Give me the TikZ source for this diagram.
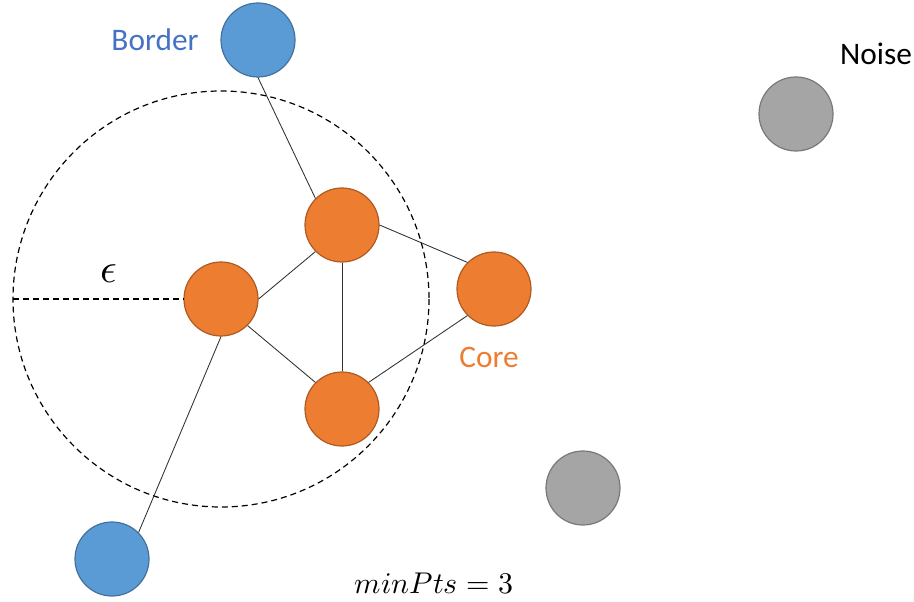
\documentclass[tikz,border=0pt]{standalone}
\usepackage{fontspec}
\usepackage{unicode-math}
\setmainfont{Carlito}
\setmathfont{Latin Modern Math}
\begin{document}
\begin{tikzpicture}[x=0.75pt,y=-0.75pt,
  pt/.style={circle,minimum size=55.5pt,inner sep=0pt,line width=0.9pt},
  border/.style={pt,fill={rgb,255:red,91;green,155;blue,213},draw={rgb,255:red,65;green,113;blue,156}},
  core/.style={pt,fill={rgb,255:red,237;green,125;blue,49},draw={rgb,255:red,174;green,90;blue,33}},
  noise/.style={pt,fill={rgb,255:red,165;green,165;blue,165},draw={rgb,255:red,120;green,120;blue,120}},
  link/.style={draw={rgb,255:red,50;green,50;blue,50},line width=0.65pt},
  eps/.style={dashed,line width=0.9pt,dash pattern=on 4.5pt off 3pt},
  lbl/.style={font=\fontsize{23.5}{28}\selectfont,inner sep=0pt}]
\useasboundingbox (0,0) rectangle (914,602);
% epsilon neighbourhood of the left core point
\draw[eps] (221,299) circle [radius=208];
% points
\node[core] (c1) at (221,299) {};
\node[core] (c2) at (342,225) {};
\node[core] (c3) at (494,289) {};
\node[core] (c4) at (342,409) {};
\node[border] (b1) at (258,40) {};
\node[border] (b2) at (112,559) {};
\node[noise] (n1) at (796,114) {};
\node[noise] (n2) at (583,488) {};
% radius of the neighbourhood
\coordinate (rim) at (13,299);
\draw[eps] (rim) -- (c1.west);
% density connections
\draw[link] (b1.south) -- (c2.135);
\draw[link] (c1.east) -- (c2.225);
\draw[link] (c1.-45) -- (c4.135);
\draw[link] (c2.south) -- (c4.north);
\draw[link] (c2.east) -- (c3.135);
\draw[link] (c3.225) -- (c4.45);
\draw[link] (c1.south) -- (b2.45);
% labels
\node[lbl,text={rgb,255:red,68;green,114;blue,196}] (lb) at (155,40) {Border};
\node[lbl] (ln) at (876,54) {Noise};
\node[lbl,text={rgb,255:red,237;green,125;blue,49}] (lc) at (489,357) {Core};
\node[inner sep=0pt,font=\fontsize{31}{34}\selectfont] (le) at (109,274) {$\epsilon$};
\node[inner sep=0pt,font=\fontsize{22.5}{27}\selectfont] (lm) at (434,584) {$minPts = 3$};
\end{tikzpicture}
\end{document}
